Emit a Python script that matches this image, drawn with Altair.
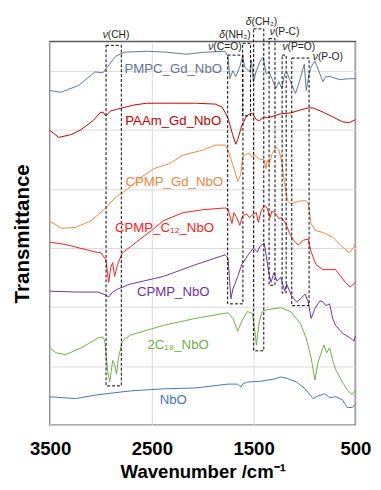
import altair as alt
import pandas as pd

# ---------------- spectra (wavenumber /cm-1, stacked transmittance a.u.) ----------------
pmpc_wn = [3500, 3394, 3221, 3058, 2981, 2914, 2856, 2770, 2549, 2357, 2165, 1973, 1781, 1752, 1733, 1704,
           1675, 1636, 1608, 1588, 1540, 1521, 1502, 1473, 1435, 1406, 1377, 1348, 1319, 1281, 1252, 1223,
           1195, 1175, 1137, 1089, 1050, 1002, 983, 954, 935, 897, 868, 820, 791, 743, 657, 561, 500]
pmpc_t = [11.34, 11.28, 11.51, 11.97, 11.94, 12.24, 12.50, 12.64, 12.67, 12.64, 12.57, 12.64, 12.67, 12.50,
          11.74, 12.01, 11.81, 12.14, 12.50, 12.14, 11.97, 12.37, 11.64, 12.01, 12.34, 12.47, 11.91, 11.97,
          11.74, 11.41, 11.64, 11.41, 11.91, 11.97, 11.64, 11.24, 11.64, 12.24, 11.34, 11.91, 12.14, 12.34,
          12.08, 11.64, 11.81, 11.81, 11.71, 11.74, 11.74]

paam_wn = [3500, 3414, 3289, 3193, 3077, 3010, 2981, 2952, 2904, 2837, 2674, 2549, 2309, 2069, 1877, 1809,
           1752, 1704, 1675, 1656, 1617, 1569, 1521, 1502, 1473, 1444, 1396, 1367, 1300, 1233, 1137, 1041,
           964, 916, 820, 724, 628, 561, 500]
paam_t = [9.98, 9.75, 9.85, 10.02, 10.32, 10.58, 10.61, 10.48, 10.65, 10.71, 10.85, 10.91, 10.91, 10.91,
          10.88, 10.78, 10.41, 9.82, 9.52, 9.68, 10.15, 10.48, 10.58, 10.51, 10.35, 10.32, 10.45, 10.41,
          10.48, 10.55, 10.58, 10.68, 10.75, 10.75, 10.61, 10.45, 10.28, 10.25, 10.35]

cpmpgd_wn = [3500, 3385, 3250, 3097, 2962, 2866, 2741, 2597, 2482, 2328, 2194, 2001, 1877, 1781, 1752, 1704,
             1656, 1627, 1608, 1569, 1540, 1521, 1492, 1444, 1396, 1377, 1367, 1348, 1319, 1281, 1252, 1223,
             1195, 1166, 1137, 1041, 983, 964, 935, 897, 820, 724, 628, 561, 500]
cpmpgd_t = [6.90, 6.67, 6.70, 6.93, 7.33, 7.69, 7.99, 8.42, 8.69, 8.86, 9.15, 9.32, 9.49, 9.49, 9.32, 8.82,
            8.26, 8.49, 9.09, 9.19, 9.22, 9.09, 9.15, 9.02, 8.99, 8.69, 8.99, 8.86, 9.19, 9.42, 9.32, 8.92,
            8.16, 7.60, 7.50, 7.60, 7.60, 7.53, 6.83, 6.60, 6.53, 6.37, 6.04, 5.84, 6.10]

cpmpc12_wn = [3500, 3346, 3058, 3000, 2952, 2924, 2904, 2885, 2866, 2837, 2789, 2712, 2616, 2501, 2386, 2194,
              2001, 1781, 1752, 1713, 1694, 1665, 1636, 1608, 1569, 1540, 1502, 1473, 1454, 1425, 1396, 1367,
              1339, 1319, 1281, 1252, 1223, 1185, 1137, 1108, 1060, 1012, 964, 935, 887, 820, 695, 599, 551, 500]
cpmpc12_t = [6.20, 6.12, 5.87, 5.84, 5.61, 4.84, 5.34, 5.51, 5.04, 5.44, 5.84, 6.04, 6.30, 6.60, 6.93, 7.20,
             7.30, 7.36, 7.33, 6.83, 7.20, 7.03, 6.77, 7.10, 7.16, 7.03, 7.16, 7.20, 6.87, 7.26, 7.43, 7.36,
             7.03, 7.26, 7.16, 7.00, 7.03, 6.83, 6.43, 6.27, 6.10, 6.27, 6.30, 5.87, 5.44, 5.27, 5.27, 4.84,
             4.68, 4.84]

cpmp_wn = [3500, 3250, 3029, 2952, 2924, 2885, 2837, 2712, 2386, 2069, 1781, 1752, 1723, 1704, 1656, 1617,
           1560, 1502, 1463, 1435, 1396, 1367, 1348, 1329, 1300, 1271, 1233, 1195, 1175, 1127, 1079, 1041,
           993, 964, 935, 897, 849, 820, 791, 753, 724, 695, 628, 551, 513, 500]
cpmp_t = [4.54, 4.51, 4.51, 4.41, 4.34, 4.51, 4.61, 4.78, 5.04, 5.44, 5.77, 5.67, 4.28, 4.61, 5.04, 5.44,
          5.74, 6.00, 5.87, 6.07, 6.17, 5.54, 5.11, 4.84, 5.17, 4.88, 5.01, 4.54, 4.78, 4.38, 4.18, 4.28,
          4.44, 4.18, 3.62, 3.95, 4.21, 4.18, 4.05, 4.11, 3.62, 3.38, 3.12, 2.95, 2.85, 3.02]

c18_wn = [3500, 3442, 3346, 3193, 3029, 2981, 2962, 2933, 2914, 2885, 2866, 2847, 2828, 2789, 2712, 2386,
          2069, 1752, 1704, 1656, 1617, 1560, 1511, 1483, 1473, 1444, 1415, 1367, 1233, 1137, 1041, 983,
          935, 916, 897, 868, 810, 782, 753, 724, 695, 628, 580, 532, 500]
c18_t = [2.62, 2.45, 2.39, 2.62, 2.95, 2.99, 2.85, 1.79, 1.46, 2.19, 2.06, 1.72, 2.29, 2.85, 3.05, 3.38,
         3.62, 3.81, 3.62, 3.18, 3.52, 3.85, 3.78, 3.05, 2.72, 3.52, 3.85, 3.91, 3.98, 3.85, 3.45, 2.95,
         2.29, 1.89, 1.53, 2.12, 2.72, 2.45, 2.62, 2.22, 1.89, 1.46, 1.19, 1.03, 1.19]

nbo_wn = [3500, 3250, 3029, 2712, 2386, 2069, 1752, 1656, 1627, 1608, 1560, 1425, 1300, 1233, 1175, 1079,
          993, 916, 868, 801, 753, 695, 628, 580, 532, 500]
nbo_t = [0.96, 0.90, 1.03, 1.16, 1.23, 1.26, 1.39, 1.39, 1.29, 1.39, 1.46, 1.49, 1.56, 1.63, 1.59, 1.46,
         1.23, 0.90, 0.99, 1.06, 0.93, 0.96, 0.86, 0.60, 0.60, 0.70]

series_names = ["PMPC_Gd_NbO", "PAAm_Gd_NbO", "CPMP_Gd_NbO", "CPMP_C\u2081\u2082_NbO",
                "CPMP_NbO", "2C\u2081\u2088_NbO", "NbO"]
series_colors = ["#62748f", "#c00000", "#ee8640", "#ff1a1a", "#7030a0", "#70ad47", "#4472c4"]
series_wn = [pmpc_wn, paam_wn, cpmpgd_wn, cpmpc12_wn, cpmp_wn, c18_wn, nbo_wn]
series_t = [pmpc_t, paam_t, cpmpgd_t, cpmpc12_t, cpmp_t, c18_t, nbo_t]

# series labels (position in data units)
label_wn = [2290, 2290, 2280, 2376, 2290, 2242, 2290]
label_t = [12.07, 10.32, 8.23, 6.67, 4.51, 2.72, 0.86]

# assignment boxes
box_wn1 = [2950, 1755, 1608, 1500, 1348, 1220, 1125]
box_wn2 = [2800, 1605, 1530, 1400, 1290, 1180, 955]
box_lo = [1.33, 4.11, 10.48, 2.52, 4.74, 4.48, 4.05]
box_hi = [12.87, 12.54, 12.94, 13.43, 13.10, 12.54, 12.44]

# box annotations (greek letter + rest)
ann_greek = ["\u03bd", "\u03bd", "\u03b4", "\u03b4", "\u03bd", "\u03bd", "\u03bd"]
ann_rest = ["(CH)", "(C=O)", "(NH\u2082)", "(CH\u2082)", "(P-C)", "(P=O)", "(P-O)"]
ann_wn = [2933, 1896, 1781, 1521, 1291, 1166, 868]
ann_t = [13.23, 12.80, 13.23, 13.67, 13.33, 12.80, 12.47]

# ---------------- build tables ----------------
rows = []
for name, wn, t in zip(series_names, series_wn, series_t):
    for i, (w, v) in enumerate(zip(wn, t)):
        rows.append({"series": name, "wn": w, "t": v, "i": i})
df = pd.DataFrame(rows)

lab_df = pd.DataFrame({"series": series_names, "wn": label_wn, "t": label_t})
box_df = pd.DataFrame({"wn": box_wn1, "wn2": box_wn2, "t": box_lo, "t2": box_hi})
ann_df = pd.DataFrame({"g": ann_greek, "r": ann_rest, "wn": ann_wn, "t": ann_t})

FONT = "Liberation Sans"
x_scale = alt.Scale(domain=[500, 3500], reverse=True, nice=False, zero=False)
y_scale = alt.Scale(domain=[0, 13], nice=False, zero=False)
color_scale = alt.Scale(domain=series_names, range=series_colors)

x_axis = alt.Axis(values=[3500, 2500, 1500, 500], format="d", title="Wavenumber /cm\u207b\u00b9",
                  labelFont=FONT, labelFontSize=19, labelFontWeight="bold", labelColor="black",
                  labelPadding=15, ticks=False, domain=False, grid=True, gridColor="#d9d9d9",
                  titleFont=FONT, titleFontSize=19, titleFontWeight="bold", titleColor="black",
                  titleY=48, titleBaseline="middle", labelFlush=False)
y_axis = alt.Axis(values=list(range(0, 14)), labels=False, ticks=False, domain=False, grid=True,
                  gridColor="#d9d9d9", title="Transmittance", titleFont=FONT, titleFontSize=21,
                  titleFontWeight="bold", titleColor="black", titleAngle=270, titleX=-28, titleY=196,
                  titleAlign="center", titleBaseline="middle")

lines = alt.Chart(df).mark_line(strokeWidth=1).encode(
    x=alt.X("wn:Q", scale=x_scale, axis=x_axis),
    y=alt.Y("t:Q", scale=y_scale, axis=y_axis),
    color=alt.Color("series:N", scale=color_scale, legend=None),
    order="i:Q",
)

boxes = alt.Chart(box_df).mark_rect(fillOpacity=0, stroke="black", strokeWidth=1,
                                    strokeDash=[3, 2]).encode(
    x=alt.X("wn:Q", scale=x_scale), x2="wn2:Q",
    y=alt.Y("t:Q", scale=y_scale), y2="t2:Q",
)

labels = alt.Chart(lab_df).mark_text(font=FONT, fontSize=13.5, align="center", baseline="middle").encode(
    x=alt.X("wn:Q", scale=x_scale),
    y=alt.Y("t:Q", scale=y_scale),
    text="series:N",
    color=alt.Color("series:N", scale=color_scale, legend=None),
)

greek = alt.Chart(ann_df).mark_text(font=FONT, fontSize=10.5, fontStyle="italic", align="right",
                                    baseline="middle", color="#222222").encode(
    x=alt.X("wn:Q", scale=x_scale), y=alt.Y("t:Q", scale=y_scale), text="g:N")
rest = alt.Chart(ann_df).mark_text(font=FONT, fontSize=10.5, align="left", baseline="middle",
                                   color="#222222").encode(
    x=alt.X("wn:Q", scale=x_scale), y=alt.Y("t:Q", scale=y_scale), text="r:N")

chart = alt.layer(lines, boxes, labels, greek, rest).properties(
    width=312, height=392, autosize="none",
    padding={"left": 43, "top": 29, "right": 18, "bottom": 60},
).configure_view(stroke="#595959", strokeWidth=1.5)

chart.save("out.html", embed_options={"renderer": "svg", "actions": False})
